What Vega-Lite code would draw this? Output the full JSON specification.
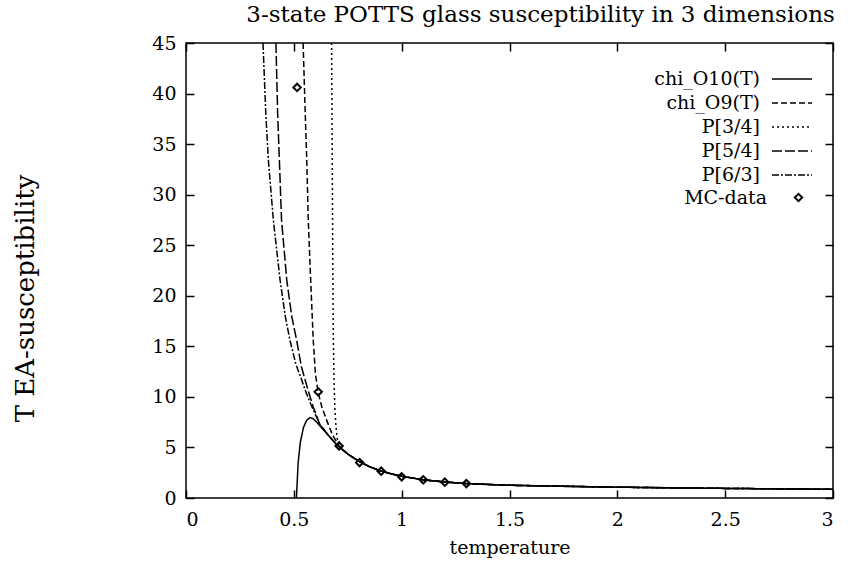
{
  "$schema": "https://vega.github.io/schema/vega-lite/v6.json",
  "width": 647,
  "height": 455,
  "autosize": {"type": "none"},
  "padding": {"left": 186, "top": 43, "right": 15, "bottom": 76},
  "background": "white",
  "title": {
    "text": "3-state POTTS glass susceptibility in 3 dimensions",
    "font": "DejaVu Serif",
    "fontSize": 23,
    "fontWeight": "normal",
    "color": "black",
    "anchor": "middle",
    "dx": 31,
    "offset": -16,
    "baseline": "bottom"
  },
  "datasets": {
    "curves": [
      {"series": "chi_O10(T)", "T": 0.512, "chi": 0},
      {"series": "chi_O10(T)", "T": 0.52, "chi": 3.5},
      {"series": "chi_O10(T)", "T": 0.53, "chi": 5.5},
      {"series": "chi_O10(T)", "T": 0.545, "chi": 7.0},
      {"series": "chi_O10(T)", "T": 0.56, "chi": 7.7},
      {"series": "chi_O10(T)", "T": 0.575, "chi": 7.95},
      {"series": "chi_O10(T)", "T": 0.59, "chi": 7.85},
      {"series": "chi_O10(T)", "T": 0.61, "chi": 7.4},
      {"series": "chi_O10(T)", "T": 0.63, "chi": 6.9},
      {"series": "chi_O10(T)", "T": 0.66, "chi": 6.2},
      {"series": "chi_O10(T)", "T": 0.70, "chi": 5.25},
      {"series": "chi_O10(T)", "T": 0.75, "chi": 4.35},
      {"series": "chi_O10(T)", "T": 0.80, "chi": 3.65},
      {"series": "chi_O10(T)", "T": 0.85, "chi": 3.1},
      {"series": "chi_O10(T)", "T": 0.90, "chi": 2.7},
      {"series": "chi_O10(T)", "T": 0.95, "chi": 2.4},
      {"series": "chi_O10(T)", "T": 1.0, "chi": 2.15},
      {"series": "chi_O10(T)", "T": 1.1, "chi": 1.8},
      {"series": "chi_O10(T)", "T": 1.2, "chi": 1.58},
      {"series": "chi_O10(T)", "T": 1.3, "chi": 1.43},
      {"series": "chi_O10(T)", "T": 1.4, "chi": 1.33},
      {"series": "chi_O10(T)", "T": 1.5, "chi": 1.26},
      {"series": "chi_O10(T)", "T": 1.75, "chi": 1.15},
      {"series": "chi_O10(T)", "T": 2.0, "chi": 1.07},
      {"series": "chi_O10(T)", "T": 2.25, "chi": 1.0},
      {"series": "chi_O10(T)", "T": 2.5, "chi": 0.95},
      {"series": "chi_O10(T)", "T": 2.75, "chi": 0.9},
      {"series": "chi_O10(T)", "T": 3.0, "chi": 0.86},

      {"series": "chi_O9(T)", "T": 0.543, "chi": 45},
      {"series": "chi_O9(T)", "T": 0.553, "chi": 38},
      {"series": "chi_O9(T)", "T": 0.56, "chi": 33.4},
      {"series": "chi_O9(T)", "T": 0.567, "chi": 27.5},
      {"series": "chi_O9(T)", "T": 0.578, "chi": 21.6},
      {"series": "chi_O9(T)", "T": 0.59, "chi": 15.6},
      {"series": "chi_O9(T)", "T": 0.60, "chi": 12.3},
      {"series": "chi_O9(T)", "T": 0.613, "chi": 10.4},
      {"series": "chi_O9(T)", "T": 0.63, "chi": 9.0},
      {"series": "chi_O9(T)", "T": 0.652, "chi": 7.7},
      {"series": "chi_O9(T)", "T": 0.68, "chi": 6.2},
      {"series": "chi_O9(T)", "T": 0.71, "chi": 5.15},
      {"series": "chi_O9(T)", "T": 0.75, "chi": 4.35},
      {"series": "chi_O9(T)", "T": 0.80, "chi": 3.65},
      {"series": "chi_O9(T)", "T": 0.85, "chi": 3.1},
      {"series": "chi_O9(T)", "T": 0.90, "chi": 2.7},
      {"series": "chi_O9(T)", "T": 0.95, "chi": 2.4},
      {"series": "chi_O9(T)", "T": 1.0, "chi": 2.15},
      {"series": "chi_O9(T)", "T": 1.1, "chi": 1.8},
      {"series": "chi_O9(T)", "T": 1.2, "chi": 1.58},
      {"series": "chi_O9(T)", "T": 1.3, "chi": 1.43},
      {"series": "chi_O9(T)", "T": 1.5, "chi": 1.26},
      {"series": "chi_O9(T)", "T": 2.0, "chi": 1.07},
      {"series": "chi_O9(T)", "T": 2.5, "chi": 0.95},
      {"series": "chi_O9(T)", "T": 3.0, "chi": 0.86},

      {"series": "P[3/4]", "T": 0.675, "chi": 45},
      {"series": "P[3/4]", "T": 0.677, "chi": 38},
      {"series": "P[3/4]", "T": 0.679, "chi": 30},
      {"series": "P[3/4]", "T": 0.681, "chi": 22},
      {"series": "P[3/4]", "T": 0.683, "chi": 16},
      {"series": "P[3/4]", "T": 0.686, "chi": 12},
      {"series": "P[3/4]", "T": 0.69, "chi": 9.0},
      {"series": "P[3/4]", "T": 0.695, "chi": 7.2},
      {"series": "P[3/4]", "T": 0.70, "chi": 6.0},
      {"series": "P[3/4]", "T": 0.71, "chi": 5.1},
      {"series": "P[3/4]", "T": 0.75, "chi": 4.35},
      {"series": "P[3/4]", "T": 0.80, "chi": 3.65},
      {"series": "P[3/4]", "T": 0.85, "chi": 3.1},
      {"series": "P[3/4]", "T": 0.90, "chi": 2.7},
      {"series": "P[3/4]", "T": 0.95, "chi": 2.4},
      {"series": "P[3/4]", "T": 1.0, "chi": 2.15},
      {"series": "P[3/4]", "T": 1.1, "chi": 1.8},
      {"series": "P[3/4]", "T": 1.2, "chi": 1.58},
      {"series": "P[3/4]", "T": 1.3, "chi": 1.43},
      {"series": "P[3/4]", "T": 1.5, "chi": 1.26},
      {"series": "P[3/4]", "T": 2.0, "chi": 1.07},
      {"series": "P[3/4]", "T": 2.5, "chi": 0.95},
      {"series": "P[3/4]", "T": 3.0, "chi": 0.86},

      {"series": "P[5/4]", "T": 0.417, "chi": 45},
      {"series": "P[5/4]", "T": 0.425, "chi": 38},
      {"series": "P[5/4]", "T": 0.433, "chi": 33.4},
      {"series": "P[5/4]", "T": 0.443, "chi": 27.5},
      {"series": "P[5/4]", "T": 0.467, "chi": 21.6},
      {"series": "P[5/4]", "T": 0.49, "chi": 18},
      {"series": "P[5/4]", "T": 0.513, "chi": 15.6},
      {"series": "P[5/4]", "T": 0.535, "chi": 13},
      {"series": "P[5/4]", "T": 0.552, "chi": 11.7},
      {"series": "P[5/4]", "T": 0.567, "chi": 10.6},
      {"series": "P[5/4]", "T": 0.59, "chi": 9.0},
      {"series": "P[5/4]", "T": 0.62, "chi": 7.3},
      {"series": "P[5/4]", "T": 0.66, "chi": 6.2},
      {"series": "P[5/4]", "T": 0.70, "chi": 5.25},
      {"series": "P[5/4]", "T": 0.75, "chi": 4.35},
      {"series": "P[5/4]", "T": 0.80, "chi": 3.65},
      {"series": "P[5/4]", "T": 0.85, "chi": 3.1},
      {"series": "P[5/4]", "T": 0.90, "chi": 2.7},
      {"series": "P[5/4]", "T": 0.95, "chi": 2.4},
      {"series": "P[5/4]", "T": 1.0, "chi": 2.15},
      {"series": "P[5/4]", "T": 1.1, "chi": 1.8},
      {"series": "P[5/4]", "T": 1.2, "chi": 1.58},
      {"series": "P[5/4]", "T": 1.3, "chi": 1.43},
      {"series": "P[5/4]", "T": 1.5, "chi": 1.26},
      {"series": "P[5/4]", "T": 2.0, "chi": 1.07},
      {"series": "P[5/4]", "T": 2.5, "chi": 0.95},
      {"series": "P[5/4]", "T": 3.0, "chi": 0.86},

      {"series": "P[6/3]", "T": 0.357, "chi": 45},
      {"series": "P[6/3]", "T": 0.37, "chi": 38},
      {"series": "P[6/3]", "T": 0.382, "chi": 33.4},
      {"series": "P[6/3]", "T": 0.405, "chi": 27.5},
      {"series": "P[6/3]", "T": 0.436, "chi": 21.6},
      {"series": "P[6/3]", "T": 0.46, "chi": 18},
      {"series": "P[6/3]", "T": 0.482, "chi": 15.6},
      {"series": "P[6/3]", "T": 0.51, "chi": 13.2},
      {"series": "P[6/3]", "T": 0.536, "chi": 11.7},
      {"series": "P[6/3]", "T": 0.552, "chi": 10.7},
      {"series": "P[6/3]", "T": 0.58, "chi": 9.2},
      {"series": "P[6/3]", "T": 0.62, "chi": 7.3},
      {"series": "P[6/3]", "T": 0.66, "chi": 6.2},
      {"series": "P[6/3]", "T": 0.70, "chi": 5.25},
      {"series": "P[6/3]", "T": 0.75, "chi": 4.35},
      {"series": "P[6/3]", "T": 0.80, "chi": 3.65},
      {"series": "P[6/3]", "T": 0.85, "chi": 3.1},
      {"series": "P[6/3]", "T": 0.90, "chi": 2.7},
      {"series": "P[6/3]", "T": 0.95, "chi": 2.4},
      {"series": "P[6/3]", "T": 1.0, "chi": 2.15},
      {"series": "P[6/3]", "T": 1.1, "chi": 1.8},
      {"series": "P[6/3]", "T": 1.2, "chi": 1.58},
      {"series": "P[6/3]", "T": 1.3, "chi": 1.43},
      {"series": "P[6/3]", "T": 1.5, "chi": 1.26},
      {"series": "P[6/3]", "T": 2.0, "chi": 1.07},
      {"series": "P[6/3]", "T": 2.5, "chi": 0.95},
      {"series": "P[6/3]", "T": 3.0, "chi": 0.86}
    ],
    "mc": [
      {"T": 0.515, "chi": 40.6},
      {"T": 0.613, "chi": 10.5},
      {"T": 0.71, "chi": 5.15},
      {"T": 0.805, "chi": 3.5},
      {"T": 0.905, "chi": 2.65},
      {"T": 1.0, "chi": 2.1},
      {"T": 1.1, "chi": 1.8},
      {"T": 1.2, "chi": 1.57},
      {"T": 1.3, "chi": 1.43}
    ]
  },
  "layer": [
    {
      "data": {"name": "curves"},
      "mark": {"type": "line", "color": "black", "strokeWidth": 1.5, "clip": true},
      "encoding": {
        "x": {
          "field": "T", "type": "quantitative",
          "scale": {"domain": [0, 3], "nice": false, "zero": false},
          "axis": {
            "orient": "bottom",
            "values": [0, 0.5, 1, 1.5, 2, 2.5, 3],
            "format": "~g",
            "title": "temperature",
            "titleY": 55,
            "titleBaseline": "alphabetic"
          }
        },
        "y": {
          "field": "chi", "type": "quantitative",
          "scale": {"domain": [0, 45], "nice": false},
          "axis": {
            "orient": "left",
            "values": [0, 5, 10, 15, 20, 25, 30, 35, 40, 45],
            "title": "T EA-susceptibility",
            "titleX": -161,
            "titleY": 255,
            "titleAngle": -90,
            "titleAlign": "center",
            "titleBaseline": "middle",
            "titleFontSize": 26
          }
        },
        "strokeDash": {
          "field": "series", "type": "nominal",
          "scale": {
            "domain": ["chi_O10(T)", "chi_O9(T)", "P[3/4]", "P[5/4]", "P[6/3]"],
            "range": [[1, 0], [6, 3], [2, 3], [10, 3], [7, 2, 2, 2]]
          },
          "legend": {
            "orient": "none",
            "legendX": 595,
            "legendY": 25,
            "title": null,
            "symbolType": "M-2,0H2",
            "symbolSize": 400,
            "symbolStrokeColor": "black",
            "symbolStrokeWidth": 1.5,
            "labelAlign": "right",
            "labelOffset": -43,
            "labelFont": "DejaVu Serif",
            "labelFontSize": 19,
            "labelColor": "black",
            "labelLimit": 300,
            "rowPadding": 3,
            "padding": 0
          }
        }
      }
    },
    {
      "data": {"name": "mc"},
      "mark": {"type": "point", "filled": false, "color": "black", "opacity": 1, "size": 55, "strokeWidth": 2, "clip": true},
      "encoding": {
        "x": {
          "field": "T", "type": "quantitative",
          "axis": {"orient": "top", "labels": false, "title": null, "values": [0, 0.5, 1, 1.5, 2, 2.5, 3]}
        },
        "y": {
          "field": "chi", "type": "quantitative",
          "axis": {"orient": "right", "labels": false, "title": null, "values": [0, 5, 10, 15, 20, 25, 30, 35, 40, 45]}
        },
        "shape": {
          "datum": "MC-data", "type": "nominal",
          "scale": {"domain": ["MC-data"], "range": ["diamond"]},
          "legend": {
            "orient": "none",
            "legendX": 603,
            "legendY": 145,
            "title": null,
            "symbolSize": 55,
            "symbolStrokeColor": "black",
            "symbolFillColor": "white",
            "symbolStrokeWidth": 2,
            "symbolOpacity": 1,
            "labelAlign": "right",
            "labelOffset": -41,
            "labelFont": "DejaVu Serif",
            "labelFontSize": 19,
            "labelColor": "black",
            "padding": 0
          }
        }
      }
    }
  ],
  "resolve": {"axis": {"x": "independent", "y": "independent"}},
  "config": {
    "view": {"stroke": "black", "strokeWidth": 1.5},
    "axis": {
      "domain": false,
      "grid": false,
      "ticks": true,
      "tickSize": -8,
      "tickColor": "black",
      "tickWidth": 1.5,
      "labelFont": "DejaVu Serif",
      "labelFontSize": 19,
      "labelColor": "black",
      "titleFont": "DejaVu Serif",
      "titleFontSize": 19,
      "titleFontWeight": "normal",
      "titleColor": "black"
    },
    "axisBottom": {"labelPadding": 20},
    "axisLeft": {"labelPadding": 18}
  }
}
